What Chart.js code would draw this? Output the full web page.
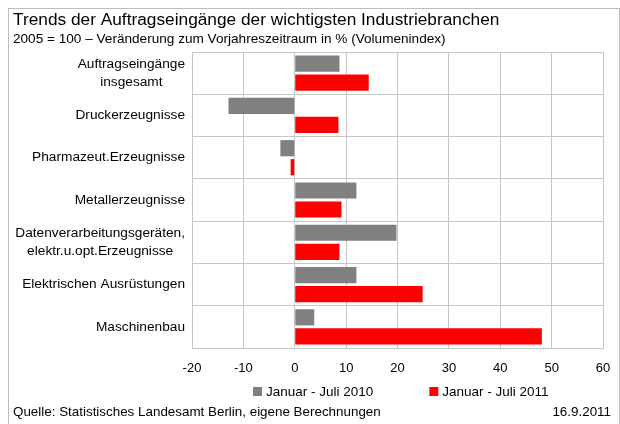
<!DOCTYPE html>
<html>
<head>
<meta charset="utf-8">
<script src="https://cdn.jsdelivr.net/npm/chart.js@4/dist/chart.umd.min.js"></script>
<style>
  html, body { margin: 0; padding: 0; background: #fff; }
  #box { width: 620px; height: 424px; position: relative; }
</style>
</head>
<body>
<div id="box"><canvas id="auftragChart" width="620" height="424"></canvas></div>
<script>
// Daten
const branchen = [
    ['Auftragseingänge', 'insgesamt'],
    'Druckerzeugnisse',
    'Pharmazeut.Erzeugnisse',
    'Metallerzeugnisse',
    ['Datenverarbeitungsgeräten,', 'elektr.u.opt.Erzeugnisse'],
    'Elektrischen Ausrüstungen',
    'Maschinenbau'
];
const werte2010 = [8.7, -12.9, -2.8, 12.0, 19.8, 12.0, 3.8];
const werte2011 = [14.4, 8.5, -0.8, 9.1, 8.7, 24.9, 48.1];
const serien = ['Januar - Juli 2010', 'Januar - Juli 2011'];

const titel = 'Trends der Auftragseingänge der wichtigsten Industriebranchen';
const untertitel = '2005 = 100 – Veränderung zum Vorjahreszeitraum in % (Volumenindex)';
const quelle = 'Quelle: Statistisches Landesamt Berlin, eigene Berechnungen';
const datum = '16.9.2011';

const schrift = "'Liberation Sans', Arial, sans-serif";

// Rahmen, Texte, Achsenbeschriftung und Legende
const rahmenPlugin = {
    id: 'rahmen',
    afterDraw(chart) {
        const ctx = chart.ctx;
        ctx.save();
        ctx.strokeStyle = '#bdbdbd';
        ctx.lineWidth = 1;
        ctx.strokeRect(8.5, 8.5, 611, 440);

        ctx.fillStyle = '#000';
        ctx.textBaseline = 'alphabetic';
        ctx.textAlign = 'left';
        ctx.font = '17.3px ' + schrift;
        ctx.fillText(titel, 13, 25);
        ctx.font = '13.6px ' + schrift;
        ctx.fillText(untertitel, 13, 43);
        ctx.font = '13.4px ' + schrift;
        ctx.fillText(quelle, 13, 416);
        ctx.textAlign = 'right';
        ctx.fillText(datum, 611, 416);

        // Kategorien: Block rechtsbündig, Zeilen zentriert
        const yScale = chart.scales.y;
        ctx.font = '13.7px ' + schrift;
        ctx.textBaseline = 'middle';
        ctx.textAlign = 'center';
        chart.data.labels.forEach((lab, i) => {
            const zeilen = Array.isArray(lab) ? lab : [lab];
            const breite = Math.max(...zeilen.map(z => ctx.measureText(z).width));
            const mx = 185 - breite / 2;
            const my = yScale.getPixelForTick(i);
            zeilen.forEach((z, j) => {
                ctx.fillText(z, mx, my + (j - (zeilen.length - 1) / 2) * 18);
            });
        });

        // Legende
        ctx.font = '13.5px ' + schrift;
        let x = 253;
        ctx.textAlign = 'left';
        chart.data.datasets.forEach(ds => {
            ctx.fillStyle = ds.backgroundColor;
            ctx.fillRect(x, 387, 9, 9);
            ctx.fillStyle = '#000';
            ctx.fillText(ds.label, x + 13, 392);
            x += 13 + ctx.measureText(ds.label).width + 56;
        });
        ctx.restore();
    }
};

new Chart(document.getElementById('auftragChart'), {
    type: 'bar',
    data: {
        labels: branchen,
        datasets: [{
            label: serien[0],
            data: werte2010,
            backgroundColor: '#808080',
            categoryPercentage: 0.9,
            barPercentage: 0.85
        }, {
            label: serien[1],
            data: werte2011,
            backgroundColor: '#ff0000',
            categoryPercentage: 0.9,
            barPercentage: 0.85
        }]
    },
    options: {
        indexAxis: 'y',
        responsive: false,
        animation: false,
        layout: { padding: { left: 0, right: 17, top: 52, bottom: 46 } },
        plugins: {
            legend: { display: false },
            title: { display: false },
            tooltip: { enabled: false }
        },
        scales: {
            x: {
                min: -20,
                max: 60,
                ticks: {
                    stepSize: 10,
                    color: '#000',
                    padding: 13,
                    font: { family: schrift, size: 13 }
                },
                grid: { color: '#c6c6c6', drawTicks: false },
                border: { color: '#c6c6c6' },
                afterFit(scale) {
                    scale.height = 30;
                    scale.paddingLeft = 0;
                    scale.paddingRight = 0;
                }
            },
            y: {
                ticks: { display: false },
                grid: { color: '#c6c6c6', drawTicks: false },
                border: { color: '#c6c6c6' },
                afterFit(scale) { scale.width = 192; }
            }
        }
    },
    plugins: [rahmenPlugin]
});
</script>
</body>
</html>
